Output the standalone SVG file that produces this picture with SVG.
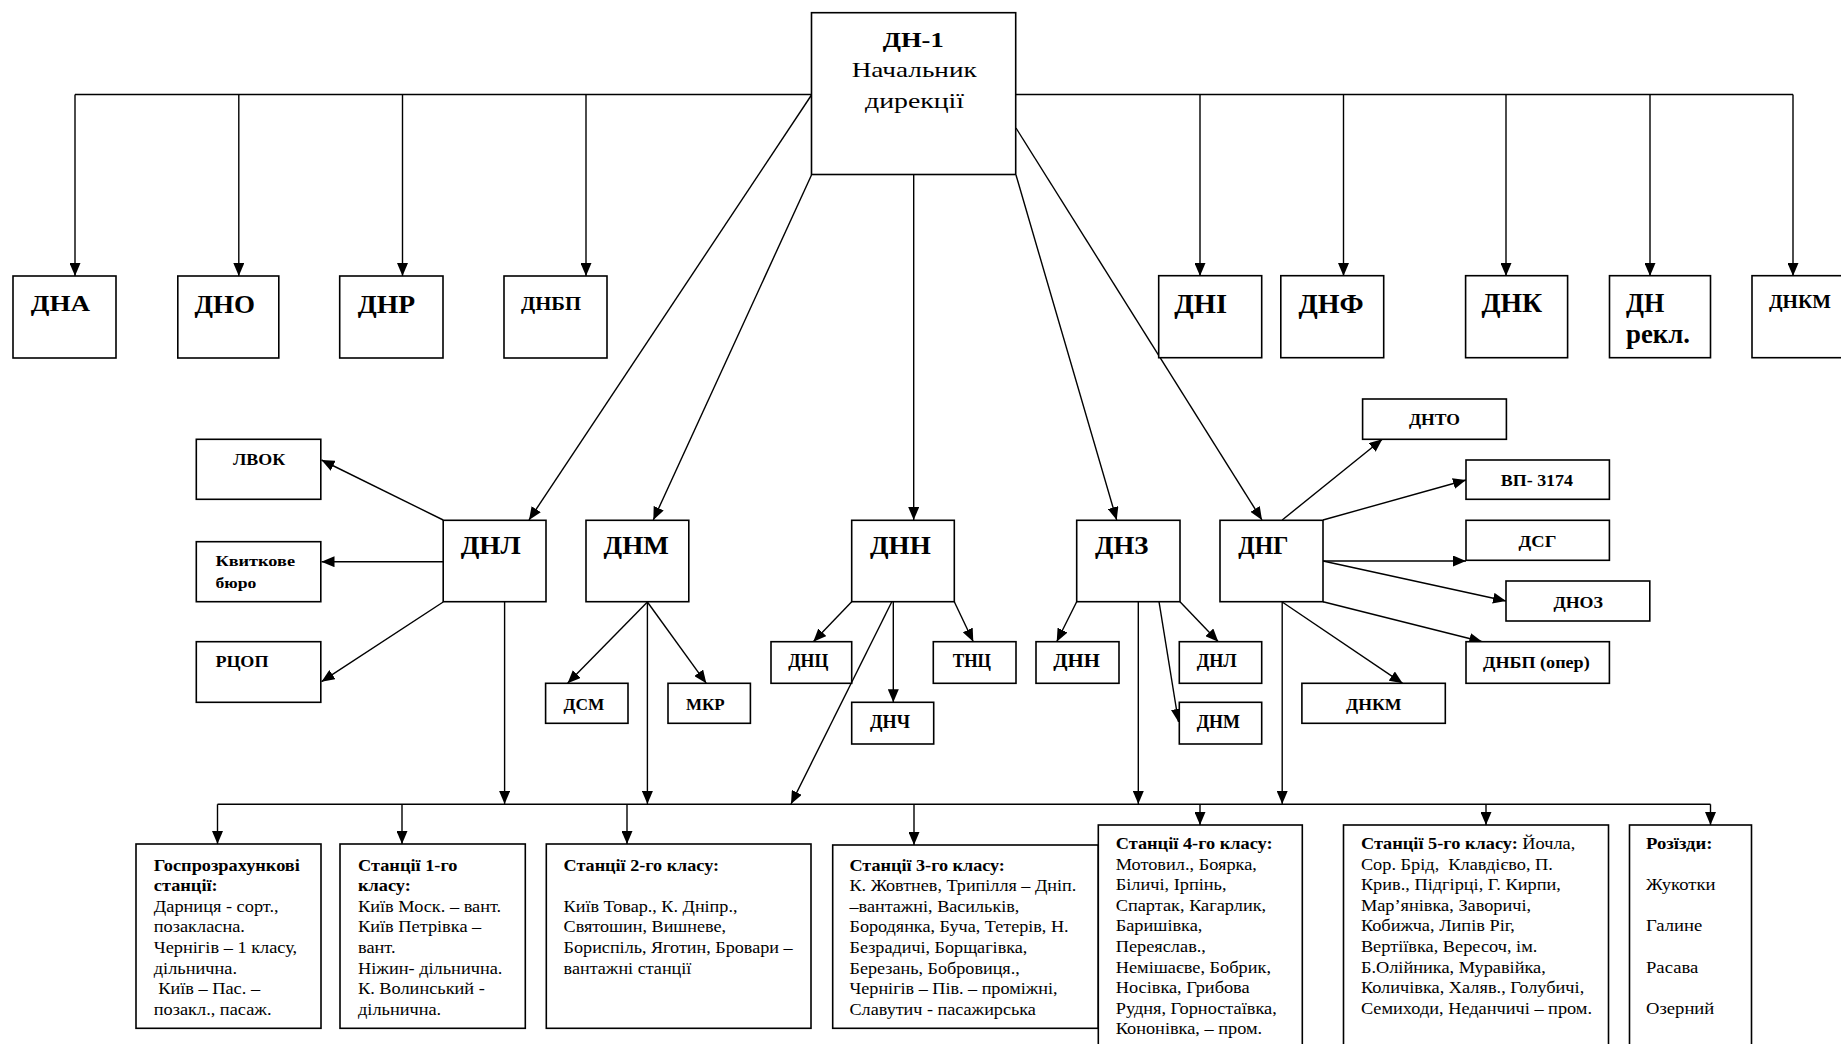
<svg xmlns="http://www.w3.org/2000/svg" width="1841" height="1044" viewBox="0 0 1841 1044">
<defs>
<marker id="ah" markerUnits="userSpaceOnUse" markerWidth="13" markerHeight="11" refX="13" refY="5.5" orient="auto">
<path d="M0,0 L13,5.5 L0,11 z" fill="#000"/>
</marker>
<style>
.box{fill:#fff;stroke:#000;stroke-width:1.6}
.ln{stroke:#000;stroke-width:1.4;fill:none}
.ar{marker-end:url(#ah)}
text{font-family:"Liberation Serif","Times New Roman",serif;fill:#000}
.b{font-weight:bold}
.r{font-weight:normal;font-size:16.5px}
</style>
</defs>
<rect width="1841" height="1044" fill="#fff"/>

<g id="connectors">
<path class="ln" d="M75,94.5 H811.5 M1015.7,94.5 H1793"/>
<path class="ln ar" d="M75,94.5 V276"/>
<path class="ln ar" d="M238.8,94.5 V276"/>
<path class="ln ar" d="M402.5,94.5 V276"/>
<path class="ln ar" d="M586,94.5 V276"/>
<path class="ln ar" d="M1200,94.5 V276"/>
<path class="ln ar" d="M1343.5,94.5 V276"/>
<path class="ln ar" d="M1506,94.5 V276"/>
<path class="ln ar" d="M1650,94.5 V276"/>
<path class="ln ar" d="M1793,94.5 V276"/>
<path class="ln ar" d="M811.5,95 L529,520"/>
<path class="ln ar" d="M811.5,175 L653.3,520"/>
<path class="ln ar" d="M913.7,175 V520"/>
<path class="ln ar" d="M1016,175 L1116.7,520"/>
<path class="ln ar" d="M1016,128 L1262,520"/>
<path class="ln ar" d="M443.2,520 L321.5,460"/>
<path class="ln ar" d="M443.2,561.7 L321.5,561.7"/>
<path class="ln ar" d="M443.2,602 L321.5,681.7"/>
<path class="ln ar" d="M504.6,602 V804"/>
<path class="ln ar" d="M647.4,602 L567.6,683.3"/>
<path class="ln ar" d="M647.4,602 L706.3,683.3"/>
<path class="ln ar" d="M647.4,602 V804"/>
<path class="ln ar" d="M851.7,601.7 L813.3,641.7"/>
<path class="ln ar" d="M893.3,601.7 V702.3"/>
<path class="ln ar" d="M954.3,601.7 L973.3,641.7"/>
<path class="ln ar" d="M891.7,602 L791,804"/>
<path class="ln ar" d="M1076.7,601.7 L1056.7,641.7"/>
<path class="ln ar" d="M1180,601.7 L1218.3,641.7"/>
<path class="ln ar" d="M1159,601.7 L1178.5,722"/>
<path class="ln ar" d="M1138.3,601.7 V804"/>
<path class="ln ar" d="M1282.2,520 L1382.3,439.3"/>
<path class="ln ar" d="M1323,520 L1466,480"/>
<path class="ln ar" d="M1323,561 L1466,561"/>
<path class="ln ar" d="M1323,561 L1506,601"/>
<path class="ln ar" d="M1323,601.7 L1482.3,641.7"/>
<path class="ln ar" d="M1282.2,602 L1402.6,683.3"/>
<path class="ln ar" d="M1282.2,602 V804"/>
<path class="ln" d="M217.5,804.3 H1710.5"/>
<path class="ln ar" d="M217.5,804.3 V844"/>
<path class="ln ar" d="M402,804.3 V844"/>
<path class="ln ar" d="M627,804.3 V844"/>
<path class="ln ar" d="M914,804.3 V845"/>
<path class="ln ar" d="M1200,804.3 V825"/>
<path class="ln ar" d="M1486,804.3 V825"/>
<path class="ln ar" d="M1710.5,804.3 V825"/>
</g>

<g id="dn1"><rect class="box" x="811.5" y="12.7" width="204.2" height="161.8"/>
<text class="b" x="882.7" y="46.7" font-size="22" textLength="61" lengthAdjust="spacingAndGlyphs">ДН-1</text>
<text x="851.7" y="76.7" font-size="22" textLength="125" lengthAdjust="spacingAndGlyphs">Начальник</text>
<text x="865" y="108.3" font-size="22" textLength="99" lengthAdjust="spacingAndGlyphs">дирекції</text></g>

<g id="dna"><rect class="box" x="13" y="276" width="103" height="82"/><text class="b" x="30.8" y="310.5" font-size="24" textLength="59.4" lengthAdjust="spacingAndGlyphs">ДНА</text></g>
<g id="dno"><rect class="box" x="177.8" y="276" width="101" height="82"/><text class="b" x="194.5" y="312.5" font-size="25" textLength="60.5" lengthAdjust="spacingAndGlyphs">ДНО</text></g>
<g id="dnr"><rect class="box" x="339.7" y="276" width="103.3" height="82"/><text class="b" x="357.8" y="313" font-size="25" textLength="57.4" lengthAdjust="spacingAndGlyphs">ДНР</text></g>
<g id="dnbp"><rect class="box" x="504" y="276" width="103" height="82"/><text class="b" x="521" y="309.5" font-size="18" textLength="60" lengthAdjust="spacingAndGlyphs">ДНБП</text></g>
<g id="dni"><rect class="box" x="1158.7" y="275.7" width="103" height="82"/><text class="b" x="1174.2" y="312.5" font-size="27" textLength="52.9" lengthAdjust="spacingAndGlyphs">ДНІ</text></g>
<g id="dnf"><rect class="box" x="1280.8" y="275.7" width="102.9" height="82"/><text class="b" x="1298.5" y="312.5" font-size="27" textLength="65.2" lengthAdjust="spacingAndGlyphs">ДНФ</text></g>
<g id="dnk"><rect class="box" x="1465.6" y="275.7" width="102" height="82"/><text class="b" x="1481.4" y="312" font-size="27" textLength="60.8" lengthAdjust="spacingAndGlyphs">ДНК</text></g>
<g id="dnrekl"><rect class="box" x="1609.5" y="275.7" width="101" height="82"/><text class="b" x="1626" y="312" font-size="27" textLength="38.3" lengthAdjust="spacingAndGlyphs">ДН</text><text class="b" x="1626" y="343" font-size="27" textLength="64" lengthAdjust="spacingAndGlyphs">рекл.</text></g>
<g id="dnkm-top"><rect class="box" x="1752" y="275.7" width="110" height="82"/><text class="b" x="1769" y="308" font-size="19" textLength="62" lengthAdjust="spacingAndGlyphs">ДНКМ</text></g>

<g id="lvok"><rect class="box" x="196.3" y="439.3" width="124.5" height="60"/><text class="b" x="233" y="464.5" font-size="17.5" textLength="52.3" lengthAdjust="spacingAndGlyphs">ЛВОК</text></g>
<g id="kvbur"><rect class="box" x="196.3" y="541.7" width="124.5" height="60"/><text class="b" x="215.5" y="565.5" font-size="15.5" textLength="79.5" lengthAdjust="spacingAndGlyphs">Квиткове</text><text class="b" x="215.5" y="587.5" font-size="15.5" textLength="40.8" lengthAdjust="spacingAndGlyphs">бюро</text></g>
<g id="rcop"><rect class="box" x="196.3" y="641.7" width="124.5" height="60.6"/><text class="b" x="215.5" y="667" font-size="17.5" textLength="53" lengthAdjust="spacingAndGlyphs">РЦОП</text></g>
<g id="dnl"><rect class="box" x="443.2" y="520.3" width="102.8" height="81.4"/><text class="b" x="460.7" y="554" font-size="25" textLength="60" lengthAdjust="spacingAndGlyphs">ДНЛ</text></g>
<g id="dnm"><rect class="box" x="586" y="520.3" width="102.8" height="81.4"/><text class="b" x="603.5" y="554" font-size="25" textLength="65.3" lengthAdjust="spacingAndGlyphs">ДНМ</text></g>
<g id="dsm"><rect class="box" x="545.6" y="683.3" width="82.4" height="40"/><text class="b" x="563.5" y="710" font-size="17.5" textLength="40.8" lengthAdjust="spacingAndGlyphs">ДСМ</text></g>
<g id="mkr"><rect class="box" x="668" y="683.3" width="82.4" height="40"/><text class="b" x="686" y="710" font-size="17.5" textLength="38.7" lengthAdjust="spacingAndGlyphs">МКР</text></g>
<g id="dnn"><rect class="box" x="851.7" y="520.3" width="102.6" height="81.4"/><text class="b" x="870" y="554" font-size="25" textLength="60.7" lengthAdjust="spacingAndGlyphs">ДНН</text></g>
<g id="dnc"><rect class="box" x="771" y="641.7" width="80.7" height="41.6"/><text class="b" x="788.3" y="667.3" font-size="18" textLength="40" lengthAdjust="spacingAndGlyphs">ДНЦ</text></g>
<g id="tnc"><rect class="box" x="933.3" y="641.7" width="82.7" height="41.6"/><text class="b" x="952.7" y="667.3" font-size="18" textLength="38.3" lengthAdjust="spacingAndGlyphs">ТНЦ</text></g>
<g id="dnch"><rect class="box" x="851.7" y="702.3" width="82" height="41.7"/><text class="b" x="870" y="728.3" font-size="18" textLength="40" lengthAdjust="spacingAndGlyphs">ДНЧ</text></g>
<g id="dnz"><rect class="box" x="1076.7" y="520.3" width="103.3" height="81.4"/><text class="b" x="1095" y="554" font-size="25" textLength="53.3" lengthAdjust="spacingAndGlyphs">ДНЗ</text></g>
<g id="dnz-dnn"><rect class="box" x="1036" y="641.7" width="83" height="41.6"/><text class="b" x="1053.3" y="667.3" font-size="18" textLength="46.7" lengthAdjust="spacingAndGlyphs">ДНН</text></g>
<g id="dnz-dnl"><rect class="box" x="1179.3" y="641.7" width="82.4" height="41.6"/><text class="b" x="1196.7" y="667.3" font-size="18" textLength="40" lengthAdjust="spacingAndGlyphs">ДНЛ</text></g>
<g id="dnz-dnm"><rect class="box" x="1179.3" y="702.3" width="82.4" height="41.7"/><text class="b" x="1196.7" y="728.3" font-size="18" textLength="43.3" lengthAdjust="spacingAndGlyphs">ДНМ</text></g>
<g id="dng"><rect class="box" x="1220" y="520.3" width="103" height="81.4"/><text class="b" x="1238.3" y="554" font-size="25" textLength="50" lengthAdjust="spacingAndGlyphs">ДНГ</text></g>
<g id="dnto"><rect class="box" x="1362.6" y="399" width="143.8" height="40.3"/><text class="b" x="1409" y="425" font-size="17.5" textLength="51" lengthAdjust="spacingAndGlyphs">ДНТО</text></g>
<g id="vp"><rect class="box" x="1466" y="460" width="143.4" height="39.3"/><text class="b" x="1500.8" y="486" font-size="17.5" textLength="72.2" lengthAdjust="spacingAndGlyphs">ВП- 3174</text></g>
<g id="dsg"><rect class="box" x="1466" y="520.3" width="143.4" height="40"/><text class="b" x="1518.6" y="546.5" font-size="17.5" textLength="37.8" lengthAdjust="spacingAndGlyphs">ДСГ</text></g>
<g id="dnoz"><rect class="box" x="1506" y="581" width="143.8" height="40"/><text class="b" x="1553.4" y="607.5" font-size="17.5" textLength="49.6" lengthAdjust="spacingAndGlyphs">ДНОЗ</text></g>
<g id="dnbp-oper"><rect class="box" x="1466" y="641.7" width="143.4" height="41.6"/><text class="b" x="1483" y="668.3" font-size="17.5" textLength="106.7" lengthAdjust="spacingAndGlyphs">ДНБП (опер)</text></g>
<g id="dnkm"><rect class="box" x="1301.9" y="683.3" width="143.4" height="40"/><text class="b" x="1346" y="710" font-size="17.5" textLength="55.5" lengthAdjust="spacingAndGlyphs">ДНКМ</text></g>

<g id="st-gosp"><rect class="box" x="136" y="844" width="185" height="184.3"/>
<text class="r" transform="translate(153.8,870.7) scale(1.11,1)"><tspan class="b" x="0" y="0">Госпрозрахункові</tspan><tspan class="b" x="0" dy="20.6">станції:</tspan><tspan x="0" dy="20.6">Дарниця - сорт.,</tspan><tspan x="0" dy="20.6">позакласна.</tspan><tspan x="0" dy="20.6">Чернігів – 1 класу,</tspan><tspan x="0" dy="20.6">дільнична.</tspan><tspan x="4" dy="20.6">Київ – Пас. –</tspan><tspan x="0" dy="20.6">позакл., пасаж.</tspan></text></g>
<g id="st-1"><rect class="box" x="340" y="844" width="185.3" height="184.3"/>
<text class="r" transform="translate(358,870.7) scale(1.11,1)"><tspan class="b" x="0" y="0">Станції 1-го</tspan><tspan class="b" x="0" dy="20.6">класу:</tspan><tspan x="0" dy="20.6">Київ Моск. – вант.</tspan><tspan x="0" dy="20.6">Київ Петрівка –</tspan><tspan x="0" dy="20.6">вант.</tspan><tspan x="0" dy="20.6">Ніжин- дільнична.</tspan><tspan x="0" dy="20.6">К. Волинський -</tspan><tspan x="0" dy="20.6">дільнична.</tspan></text></g>
<g id="st-2"><rect class="box" x="546.3" y="844" width="264.7" height="184.3"/>
<text class="r" transform="translate(563.6,870.7) scale(1.1,1)"><tspan class="b" x="0" y="0">Станції 2-го класу:</tspan><tspan x="0" dy="41.2">Київ Товар., К. Дніпр.,</tspan><tspan x="0" dy="20.6">Святошин, Вишневе,</tspan><tspan x="0" dy="20.6">Бориспіль, Яготин, Бровари –</tspan><tspan x="0" dy="20.6">вантажні станції</tspan></text></g>
<g id="st-3"><rect class="box" x="832.7" y="845" width="265.6" height="183.3"/>
<text class="r" transform="translate(849.5,870.7) scale(1.1,1)"><tspan class="b" x="0" y="0">Станції 3-го класу:</tspan><tspan x="0" dy="20.6">К. Жовтнев, Трипілля – Дніп.</tspan><tspan x="0" dy="20.6">–вантажні, Васильків,</tspan><tspan x="0" dy="20.6">Бородянка, Буча, Тетерів, Н.</tspan><tspan x="0" dy="20.6">Безрадичі, Борщагівка,</tspan><tspan x="0" dy="20.6">Березань, Бобровиця.,</tspan><tspan x="0" dy="20.6">Чернігів – Пів. – проміжні,</tspan><tspan x="0" dy="20.6">Славутич - пасажирська</tspan></text></g>
<g id="st-4"><rect class="box" x="1098.3" y="825" width="204" height="240"/>
<text class="r" transform="translate(1115.7,849) scale(1.11,1)"><tspan class="b" x="0" y="0">Станції 4-го класу:</tspan><tspan x="0" dy="20.6">Мотовил., Боярка,</tspan><tspan x="0" dy="20.6">Біличі, Ірпінь,</tspan><tspan x="0" dy="20.6">Спартак, Кагарлик,</tspan><tspan x="0" dy="20.6">Баришівка,</tspan><tspan x="0" dy="20.6">Переяслав.,</tspan><tspan x="0" dy="20.6">Немішаєве, Бобрик,</tspan><tspan x="0" dy="20.6">Носівка, Грибова</tspan><tspan x="0" dy="20.6">Рудня, Горностаївка,</tspan><tspan x="0" dy="20.6">Кононівка, – пром.</tspan></text></g>
<g id="st-5"><rect class="box" x="1343.5" y="825" width="265" height="240"/>
<text class="r" xml:space="preserve" transform="translate(1360.9,849) scale(1.11,1)"><tspan x="0" y="0"><tspan class="b">Станції 5-го класу:</tspan> Йочла,</tspan><tspan x="0" dy="20.6">Сор. Брід,  Клавдієво, П.</tspan><tspan x="0" dy="20.6">Крив., Підгірці, Г. Кирпи,</tspan><tspan x="0" dy="20.6">Мар’янівка, Заворичі,</tspan><tspan x="0" dy="20.6">Кобижча, Липів Ріг,</tspan><tspan x="0" dy="20.6">Вертіївка, Вересоч, ім.</tspan><tspan x="0" dy="20.6">Б.Олійника, Муравійка,</tspan><tspan x="0" dy="20.6">Количівка, Халяв., Голубичі,</tspan><tspan x="0" dy="20.6">Семиходи, Неданчичі – пром.</tspan></text></g>
<g id="rozizdy"><rect class="box" x="1629.5" y="825" width="122" height="240"/>
<text class="r" transform="translate(1646,849) scale(1.13,1)"><tspan class="b" x="0" y="0">Розїзди:</tspan><tspan x="0" dy="41.2">Жукотки</tspan><tspan x="0" dy="41.2">Галине</tspan><tspan x="0" dy="41.2">Расава</tspan><tspan x="0" dy="41.2">Озерний</tspan></text></g>
</svg>
